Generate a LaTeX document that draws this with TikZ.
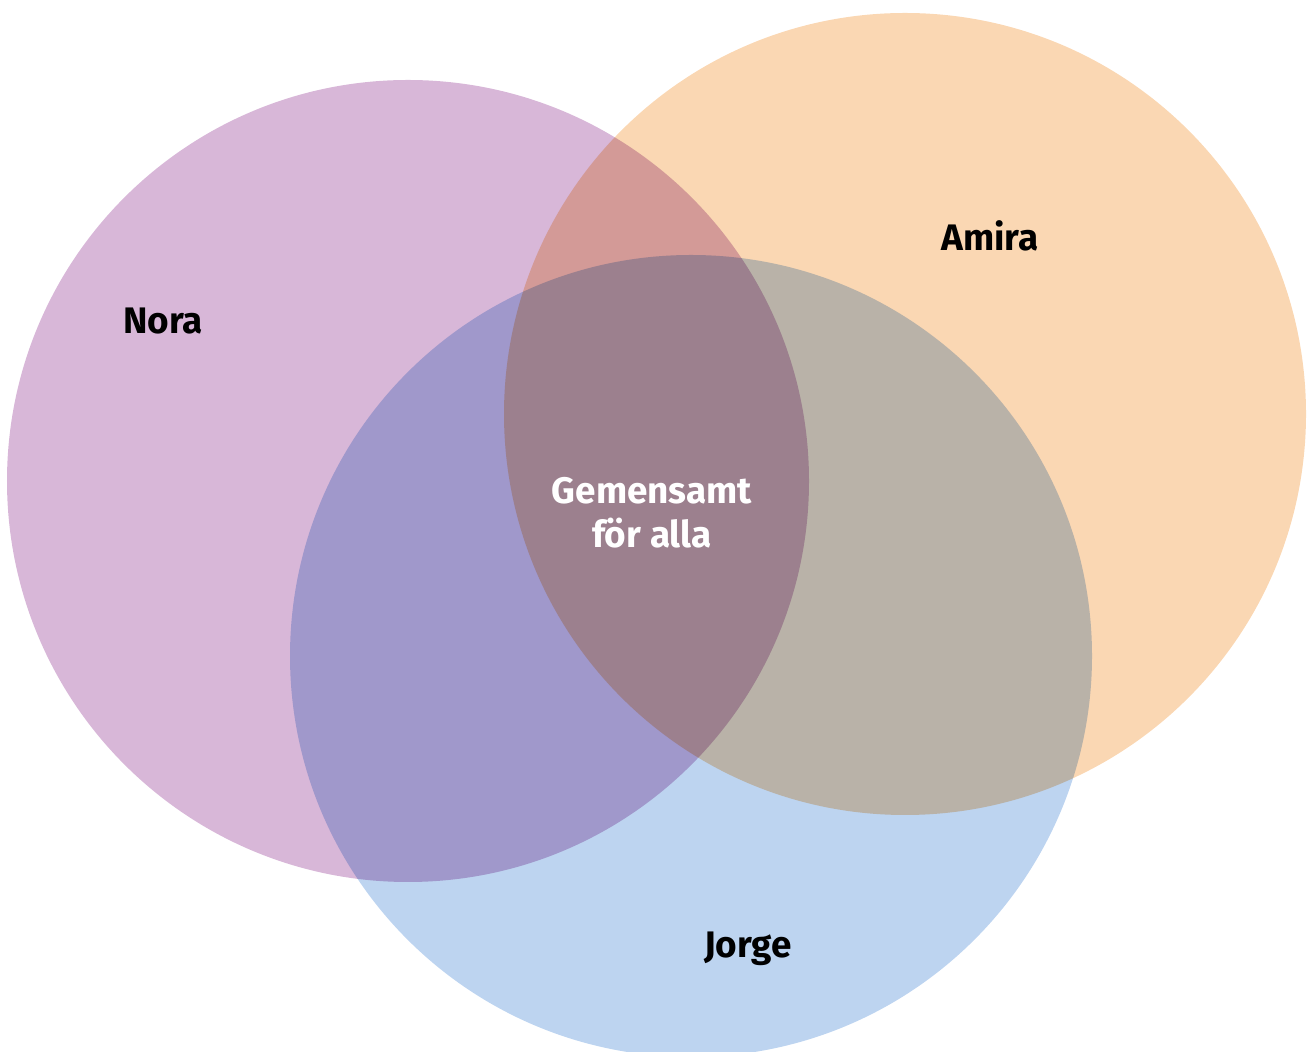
\documentclass[tikz,border=0pt]{standalone}
\usepackage{fontspec}
\setsansfont{Fira Sans}
\usepackage{tikz}
\usetikzlibrary{shapes, backgrounds, calc}

\definecolor{noraC}{HTML}{D8B7D8}
\definecolor{amiraC}{HTML}{FAD7B3}
\definecolor{jorgeC}{HTML}{BDD4F0}

\begin{document}
\begin{tikzpicture}

% Sans-serif text
\sffamily\bfseries

% Set styles
\tikzset{setC/.style={shape = circle, inner sep = 0pt, minimum size = 8.02cm}}
\tikzset{nameL/.style={font = \fontsize{10.5}{12.5}\selectfont, text = black}}
\tikzset{allL/.style={nameL, text = white, align = center}}

% Frame
\clip (0,0) rectangle (13.11,10.51);

% Sets
\begin{scope}[blend group = multiply]
\node (nora) [setC, fill = noraC] at (4.08, 5.70) {};
\node (amira) [setC, fill = amiraC] at (9.05, 6.37) {};
\node (jorge) [setC, fill = jorgeC] at (6.91, 3.95) {};
\end{scope}

% Labels
\node (noraL) [nameL] at (1.63, 7.30) {Nora};
\node (amiraL) [nameL] at (9.90, 8.15) {Amira};
\node (jorgeL) [nameL] at (7.48, 1.02) {Jorge};
\node (allL) [allL] at (6.52, 5.38) {Gemensamt\\för alla};

\end{tikzpicture}
\end{document}
